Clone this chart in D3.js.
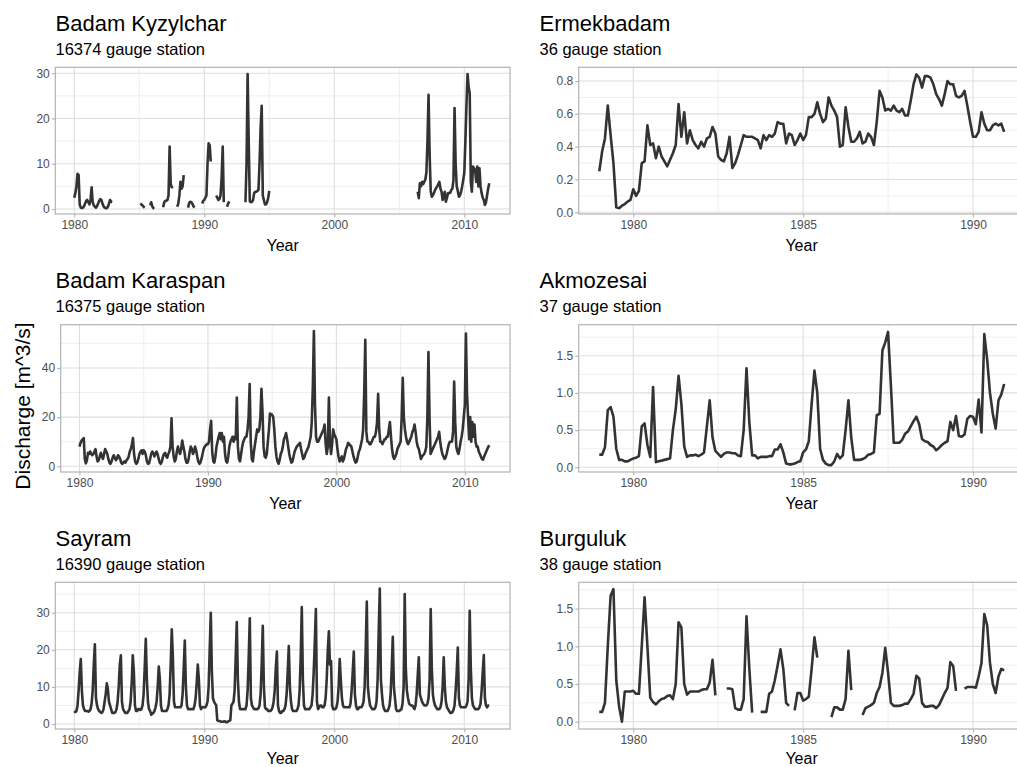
<!DOCTYPE html>
<html>
<head>
<meta charset="utf-8">
<script src="https://cdn.jsdelivr.net/npm/d3@7"></script>
<style>
  body { margin: 0; background: #fff; }
  svg { display: block; font-family: "Liberation Sans", Arial, sans-serif; }
</style>
</head>
<body>
<svg id="chart" width="1017" height="767"></svg>
<script>
// Monthly discharge, one row of 12 months per year, null = no record

// Badam Kyzylchar, 1980-2011
const kyzylchar = [
  [2.5, 3.5, 5.0, 7.8, 7.5, 1.0, 0.3, 0.2, 0.3, 0.6, 1.2, 1.8],
  [2.0, 1.5, 1.0, 2.0, 4.8, 1.5, 0.8, 0.5, 0.3, 0.6, 1.2, 1.8],
  [2.2, 2.0, 1.2, 0.6, 0.3, 0.2, 0.2, 0.5, 1.2, 2.0, 1.6, 1.5],
  [null, null, null, null, null, null, null, null, null, null, null, null],
  [null, null, null, null, null, null, null, null, null, null, null, null],
  [null, 1.2, 1.0, 0.8, 0.5, 0.3, null, null, null, null, 0.8, 1.5],
  [0.6, 0.2, 0.1, null, null, null, null, null, null, null, 0.4, 1.5],
  [1.8, 1.8, 2.0, 3.0, 13.8, 5.5, 4.8, 5.0, null, null, null, 0.5],
  [1.2, 3.0, 6.0, 4.5, 5.0, 7.5, null, null, null, 0.3, 1.3, 1.6],
  [1.5, 1.2, 0.6, 0.3, null, null, null, null, null, null, 1.2, 1.8],
  [2.0, 2.5, 3.0, 10.0, 14.5, 14.0, 10.5, null, null, null, null, 3.0],
  [2.5, 2.0, 2.2, 3.0, 7.0, 13.8, 1.5, null, null, 0.5, 1.2, 1.7],
  [null, null, null, null, null, null, null, null, null, null, null, null],
  [null, null, 1.5, 10.0, 29.8, 15.0, 1.7, 1.5, 1.6, 2.0, 3.5, 3.8],
  [3.8, 4.0, 4.2, 10.0, 18.0, 22.8, 3.0, 2.0, 1.0, 1.0, 1.5, 2.5],
  [4.0, null, null, null, null, null, null, null, null, null, null, null],
  [null, null, null, null, null, null, null, null, null, null, null, null],
  [null, null, null, null, null, null, null, null, null, null, null, null],
  [null, null, null, null, null, null, null, null, null, null, null, null],
  [null, null, null, null, null, null, null, null, null, null, null, null],
  [null, null, null, null, null, null, null, null, null, null, null, null],
  [null, null, null, null, null, null, null, null, null, null, null, null],
  [null, null, null, null, null, null, null, null, null, null, null, null],
  [null, null, null, null, null, null, null, null, null, null, null, null],
  [null, null, null, null, null, null, null, null, null, null, null, null],
  [null, null, null, null, null, null, null, null, null, null, null, null],
  [null, null, null, null, null, 3.8, 2.4, 5.7, 5.0, 6.0, 5.5, 6.0],
  [6.5, 8.0, 15.0, 25.2, 12.0, 4.0, 2.7, 3.1, 3.5, 4.2, 4.6, 5.0],
  [5.5, 6.0, 4.5, 3.8, 2.0, 3.0, 3.8, 1.6, 2.5, 3.5, 3.5, 3.6],
  [4.2, 4.5, 6.4, 22.3, 10.0, 5.0, 4.0, 2.7, 3.0, 3.8, 5.0, 6.4],
  [8.0, 15.0, 23.0, 29.8, 27.0, 25.6, 6.0, 3.8, 9.4, 9.0, 8.6, 6.0],
  [9.4, 5.0, 9.0, 5.0, 3.5, 2.5, 2.0, 0.9, 1.5, 3.0, 4.5, 5.7]
];

// Badam Karaspan, 1980-2011
const karaspan = [
  [8, 9.5, 10.5, 11, 11.5, 3, 1.2, 2.5, 5.5, 5, 6, 5],
  [4.5, 5, 6, 7, 4, 2, 2.5, 4, 5.5, 4, 3, 5],
  [7, 6, 5, 3, 1.5, 1, 2, 3.5, 4.5, 3.5, 2.5, 3],
  [4.5, 4, 3, 1.5, 1, 1.5, 2, 1.5, 2.5, 3, 4, 6],
  [7, 9, 11.5, 5, 2, 1, 1.5, 3, 5, 6, 6.5, 5],
  [6.5, 6, 4.5, 2, 1, 1.2, 3, 5, 6, 5.5, 4, 5],
  [6, 5, 3, 1.5, 1, 2, 4, 5, 5.5, 4, 3.5, 5],
  [6, 8, 19.5, 8, 4, 2, 3, 6, 8, 6, 5, 7],
  [10.5, 8, 6, 3, 1.5, 1.5, 3, 6, 8, 7, 5, 6],
  [8, 6.5, 4, 2, 1, 1.5, 3, 5, 7, 8, 8.5, 9],
  [9, 10, 15, 18.5, 6, 2, 1.5, 4, 8, 10, 12, 13.5],
  [11, 13.5, 10, 12, 5, 2, 1.5, 4, 8, 10, 11, 12],
  [10, 12, 11, 28, 8, 3, 2, 5, 8, 10, 11, 12],
  [12, 15, 20, 33.5, 10, 3, 2, 6, 9, 12, 15, 14],
  [15, 20, 31.5, 22, 8, 4, 3.5, 5, 10, 15, 21.5, 21],
  [21, 20, 15, 8, 4, 2, 1, 2.5, 5, 6, 8, 11],
  [12, 13.5, 11, 8, 5, 3, 1.5, 2, 4, 6, 7, 8],
  [8.5, 9, 9.5, 7, 5, 3, 3.5, 5, 6, 7, 8, 10],
  [12, 18, 32, 55, 25, 12, 10, 10, 11, 12, 13, 14],
  [15, 17, 9, 5, 8, 28, 10, 5, 9, 15, 13, 12],
  [11, 7, 4, 2, 3, 4, 2, 3, 5, 7, 8, 9.5],
  [9, 8.5, 8, 6, 4, 2.5, 1.5, 2, 4, 6, 7, 9],
  [11, 15, 30, 51.5, 14, 10, 10, 9, 9, 10, 11, 12],
  [12, 14, 18, 29.5, 15, 10, 10, 9, 10, 11, 11, 12],
  [12, 15, 18, 12, 7, 4, 3, 4, 5, 7, 8, 9],
  [10, 20, 36, 20, 15, 12, 10, 9, 10, 11, 12, 14],
  [15, 17, 14, 10, 8, 7, 5, 3, 4, 4.5, 5, 6],
  [8, 20, 46.5, 20, 5, 6, 7, 8, 9, 10, 11, 12],
  [14, 10, 7, 5, 4, 3, 3.5, 5, 7, 9, 10, 10],
  [10, 14, 34.5, 18, 8, 6, 5, 7, 10, 12, 15, 20],
  [25, 54, 30, 20, 11, 20, 10, 18, 12, 17, 10, 8],
  [8, 6, 5, 4, 3, 2.7, 4, 5, 6, 7, 8, 8.5]
];

// Sayram, 1980-2011
const sayram = [
  [3.5, 3.2, 3.5, 5, 9, 14, 17.5, 9, 5, 4, 3.5, 3.5],
  [3.5, 3.3, 3.5, 4, 5.5, 9, 16, 21.5, 7, 5, 4, 3.5],
  [3.2, 3, 3.2, 4, 6, 8, 11, 9.5, 6, 5, 4, 3],
  [3, 3, 3.2, 4, 6, 10, 16, 18.5, 6, 4, 3.5, 3],
  [3, 3, 3.5, 4, 6, 11, 18.5, 14, 5, 3.5, 3.5, 4],
  [4, 3.8, 4, 5, 8, 15, 23, 12, 6, 4, 3.5, 2.5],
  [2.8, 3, 3.5, 4.5, 6, 10, 15.5, 12, 5, 3.5, 3.5, 3.5],
  [3.5, 3.5, 4, 5, 8, 16, 25.5, 18, 6, 4.5, 4.5, 4.5],
  [4.5, 4.5, 4.5, 5, 8, 15, 22.5, 10, 5, 4, 4, 4],
  [4, 4, 4, 5, 7, 11, 16, 12, 5, 4, 4.5, 4.5],
  [4.5, 4.5, 5, 6, 10, 20, 30, 14, 7, 6, 5.5, 5],
  [1, 0.8, 0.8, 0.7, 0.6, 0.6, 0.7, 0.7, 0.5, 0.5, 0.7, 0.8],
  [1, 5, 5.5, 6, 9, 18, 27.5, 12, 6, 4, 4, 4],
  [4, 4, 4, 5, 9, 18, 28.5, 7, 5, 4.5, 4, 4],
  [4, 4, 4.2, 5, 8, 16, 26.5, 10, 4.5, 4, 4, 3.5],
  [3.5, 3.5, 3.8, 4.5, 6, 9, 15, 19.5, 5, 3.5, 3, 3],
  [3.5, 3.5, 4, 5, 8, 14, 21, 10, 6, 4, 3.5, 3.5],
  [3.5, 3.5, 4, 5, 9, 18, 31.5, 12, 5, 4, 4, 4],
  [4, 4, 4.5, 5, 8, 14, 22, 31, 6, 4, 4.5, 5],
  [5, 4.5, 4.5, 5, 7, 12, 20, 25, 16, 17, 5, 4],
  [4, 4, 4.5, 6, 10, 17.5, 12, 7, 5, 4.5, 4.5, 4.5],
  [4.5, 4.5, 4.5, 5.5, 9, 14, 19.5, 8, 5, 4, 4, 4.5],
  [4.5, 4.5, 5, 6, 10, 20, 33, 10, 7, 5, 4.5, 4],
  [4, 4, 4.5, 6, 12, 25, 36.5, 12, 8, 5, 4, 3.5],
  [3.5, 3.5, 4, 5, 8, 15, 23.5, 10, 7, 4, 3.5, 3.5],
  [3.5, 3.8, 4, 5.5, 10, 35, 15, 9, 7, 5.5, 5.2, 5],
  [5, 4.5, 4, 5, 8, 13, 18, 8, 7, 6, 5.5, 5],
  [5, 5, 5.5, 7, 12, 31, 15, 8, 6, 5, 4.5, 4],
  [4, 4, 4.5, 6, 10, 18, 10, 6, 4.5, 4, 3.5, 3],
  [3, 3.2, 3.8, 5, 9, 14, 20.6, 7, 5, 4.5, 4.5, 4.5],
  [4.5, 4.5, 5, 6, 12, 30.5, 15, 7, 5, 4.5, 4, 4],
  [4, 4, 4.5, 5.5, 9, 14, 18.6, 7, 5, 4.5, 5, 5]
];

// Ermekbadam, 1979-1990
const ermekbadam = [
  [0.25, 0.37, 0.45, 0.65, 0.47, 0.3, 0.03, 0.025, 0.04, 0.05, 0.065, 0.075],
  [0.14, 0.1, 0.13, 0.3, 0.31, 0.53, 0.41, 0.42, 0.33, 0.4, 0.34, 0.31],
  [0.28, 0.32, 0.36, 0.41, 0.66, 0.46, 0.61, 0.42, 0.5, 0.44, 0.41, 0.39],
  [0.43, 0.4, 0.45, 0.46, 0.52, 0.48, 0.34, 0.32, 0.31, 0.36, 0.46, 0.27],
  [0.3, 0.35, 0.41, 0.47, 0.46, 0.46, 0.46, 0.45, 0.44, 0.39, 0.47, 0.44],
  [0.47, 0.46, 0.48, 0.55, 0.54, 0.54, 0.42, 0.48, 0.47, 0.41, 0.44, 0.48],
  [0.44, 0.47, 0.58, 0.58, 0.6, 0.67, 0.6, 0.55, 0.57, 0.7, 0.65, 0.62],
  [0.58, 0.4, 0.41, 0.64, 0.52, 0.43, 0.43, 0.45, 0.49, 0.42, 0.43, 0.48],
  [0.46, 0.41, 0.55, 0.74, 0.7, 0.62, 0.63, 0.62, 0.65, 0.62, 0.61, 0.63],
  [0.59, 0.59, 0.68, 0.78, 0.84, 0.82, 0.76, 0.83, 0.83, 0.82, 0.78, 0.72],
  [0.69, 0.65, 0.72, 0.8, 0.78, 0.78, 0.71, 0.7, 0.71, 0.74, 0.65, 0.55],
  [0.46, 0.46, 0.49, 0.61, 0.54, 0.5, 0.5, 0.53, 0.54, 0.53, 0.54, 0.49]
];

// Akmozesai, 1979-1990
const akmozesai = [
  [0.17, 0.17, 0.27, 0.77, 0.81, 0.68, 0.25, 0.1, 0.1, 0.08, 0.08, 0.1],
  [0.12, 0.13, 0.15, 0.55, 0.59, 0.3, 0.14, 1.08, 0.07, 0.08, 0.09, 0.1],
  [0.11, 0.12, 0.5, 0.78, 1.23, 0.85, 0.28, 0.14, 0.16, 0.16, 0.17, 0.15],
  [0.17, 0.2, 0.55, 0.9, 0.4, 0.22, 0.18, 0.14, 0.18, 0.2, 0.2, 0.19],
  [0.19, 0.16, 0.15, 0.5, 1.33, 0.6, 0.16, 0.16, 0.12, 0.14, 0.14, 0.14],
  [0.15, 0.15, 0.24, 0.24, 0.31, 0.2, 0.05, 0.04, 0.04, 0.05, 0.07, 0.08],
  [0.2, 0.24, 0.35, 0.85, 1.3, 1.0, 0.25, 0.1, 0.05, 0.03, 0.03, 0.08],
  [0.18, 0.12, 0.16, 0.5, 0.9, 0.4, 0.1, 0.1, 0.1, 0.11, 0.13, 0.17],
  [0.18, 0.2, 0.7, 0.72, 1.57, 1.68, 1.82, 1.1, 0.33, 0.33, 0.33, 0.37],
  [0.45, 0.48, 0.55, 0.62, 0.68, 0.58, 0.38, 0.35, 0.34, 0.3, 0.28, 0.23],
  [0.26, 0.3, 0.33, 0.35, 0.61, 0.5, 0.69, 0.42, 0.41, 0.44, 0.65, 0.69],
  [0.68, 0.58, 0.91, 0.47, 1.79, 1.45, 1.0, 0.72, 0.52, 0.9, 0.98, 1.12]
];

// Burguluk, 1979-1990
const burguluk = [
  [0.13, 0.13, 0.25, 1.0, 1.67, 1.76, 0.55, 0.2, 0.0, 0.4, 0.4, 0.4],
  [0.41, 0.37, 0.37, 1.0, 1.65, 1.0, 0.32, 0.26, 0.23, 0.27, 0.3, 0.31],
  [0.34, 0.35, 0.3, 0.5, 1.32, 1.25, 0.5, 0.36, 0.4, 0.4, 0.4, 0.4],
  [0.42, 0.43, 0.43, 0.52, 0.82, 0.35, null, null, null, 0.44, 0.44, 0.43],
  [0.18, 0.16, 0.16, 0.3, 1.4, 0.7, 0.12, null, null, 0.13, 0.13, 0.13],
  [0.37, 0.4, 0.55, 0.75, 0.96, 0.7, 0.25, 0.21, null, 0.15, 0.38, 0.38],
  [0.28, 0.3, 0.33, 0.7, 1.12, 0.85, null, null, null, null, 0.06, 0.19],
  [0.19, 0.16, 0.16, 0.3, 0.94, 0.42, null, null, null, 0.09, 0.18, 0.2],
  [0.22, 0.25, 0.38, 0.46, 0.65, 0.98, 0.65, 0.25, 0.21, 0.21, 0.21, 0.22],
  [0.24, 0.24, 0.3, 0.37, 0.61, 0.57, 0.25, 0.2, 0.2, 0.21, 0.21, 0.18],
  [0.22, 0.3, 0.38, 0.45, 0.79, 0.74, 0.41, null, null, 0.44, 0.46, 0.46],
  [0.46, 0.45, 0.6, 0.78, 1.43, 1.28, 0.78, 0.5, 0.38, 0.6, 0.7, 0.68]
];

const stationNames = ["Badam Kyzylchar", "Ermekbadam", "Badam Karaspan", "Akmozesai", "Sayram", "Burguluk"];
const stationIds = ["16374", "36", "16375", "37", "16390", "38"];
const startYears = [1980, 1979, 1980, 1979, 1980, 1979];
const seriesList = [kyzylchar, ermekbadam, karaspan, akmozesai, sayram, burguluk];

const longYearTicks = [1980, 1990, 2000, 2010];
const longYearMinor = [1985, 1995, 2005];
const shortYearTicks = [1980, 1985, 1990];
const shortYearMinor = [1982.5, 1987.5];

const yTicks = [[0, 10, 20, 30], [0, 0.2, 0.4, 0.6, 0.8], [0, 20, 40], [0, 0.5, 1, 1.5], [0, 10, 20, 30], [0, 0.5, 1, 1.5]];
const yMinor = [[5, 15, 25], [0.1, 0.3, 0.5, 0.7], [10, 30, 50], [0.25, 0.75, 1.25, 1.75], [5, 15, 25, 35], [0.25, 0.75, 1.25, 1.75]];
const yDomains = [[-1.1, 31.3], [-0.0104, 0.8836], [-2.32, 57.6], [-0.063, 1.917], [-1.35, 38.2], [-0.097, 1.85]];

// layout (pixels)
const rowTop = [67.3, 324.7, 582.3];
const rowBottom = [214, 472, 729];
const leftX0 = [55.3, 60.7, 55.3];
const leftX1 = 510;
const rightX0 = 578.7, rightX1 = 1024.4;
const leftDomain = [1978.54, 2013.515];
const rightDomain = [1978.394, 1991.513];

const svg = d3.select("#chart");

function toSeries(rows, start) {
  return rows.flatMap((r, i) => r.map((v, m) => ({ t: start + i + m / 12, v: v })));
}

seriesList.forEach((rows, k) => {
  const row = Math.floor(k / 2), isLeft = k % 2 === 0;
  const x0 = isLeft ? leftX0[row] : rightX0;
  const x1 = isLeft ? leftX1 : rightX1;
  const y0 = rowTop[row], y1 = rowBottom[row];

  const x = d3.scaleLinear().domain(isLeft ? leftDomain : rightDomain).range([x0, x1]);
  const y = d3.scaleLinear().domain(yDomains[k]).range([y1, y0]);
  const xt = isLeft ? longYearTicks : shortYearTicks;
  const xm = isLeft ? longYearMinor : shortYearMinor;
  const yFmt = isLeft ? d3.format("d") : d3.format(".1f");

  const g = svg.append("g");

  // grid
  g.append("g").selectAll("line").data(yMinor[k]).join("line")
    .attr("x1", x0).attr("x2", x1).attr("y1", d => y(d)).attr("y2", d => y(d))
    .attr("stroke", "#e4e4e4").attr("stroke-width", 0.6);
  g.append("g").selectAll("line").data(xm).join("line")
    .attr("x1", d => x(d)).attr("x2", d => x(d)).attr("y1", y0).attr("y2", y1)
    .attr("stroke", "#e4e4e4").attr("stroke-width", 0.6);
  g.append("g").selectAll("line").data(yTicks[k]).join("line")
    .attr("x1", x0).attr("x2", x1).attr("y1", d => y(d)).attr("y2", d => y(d))
    .attr("stroke", "#dedede").attr("stroke-width", 1.1);
  g.append("g").selectAll("line").data(xt).join("line")
    .attr("x1", d => x(d)).attr("x2", d => x(d)).attr("y1", y0).attr("y2", y1)
    .attr("stroke", "#dedede").attr("stroke-width", 1.1);

  // line
  const line = d3.line().defined(d => d.v != null).x(d => x(d.t)).y(d => y(d.v));
  g.append("path").datum(toSeries(rows, startYears[k]))
    .attr("fill", "none").attr("stroke", "#333333").attr("stroke-width", 2.6)
    .attr("stroke-linejoin", "round").attr("stroke-linecap", "butt")
    .attr("d", line);

  // border
  g.append("rect").attr("x", x0).attr("y", y0).attr("width", x1 - x0).attr("height", y1 - y0)
    .attr("fill", "none").attr("stroke", "#b3b3b3").attr("stroke-width", 1.2);

  // axes
  const xAxis = g.append("g").attr("transform", `translate(0,${y1})`)
    .call(d3.axisBottom(x).tickValues(xt).tickFormat(d3.format("d")).tickSize(3.5).tickPadding(3));
  const yAxis = g.append("g").attr("transform", `translate(${x0},0)`)
    .call(d3.axisLeft(y).tickValues(yTicks[k]).tickFormat(yFmt).tickSize(3.5).tickPadding(2));
  [xAxis, yAxis].forEach(a => {
    a.select(".domain").remove();
    a.selectAll(".tick line").attr("stroke", "#b3b3b3").attr("stroke-width", 1.1);
    a.selectAll(".tick text").attr("fill", "#4d4d4d").style("font-size", "12px")
      .style("font-family", "'Liberation Sans', Arial, sans-serif");
  });

  // axis title
  g.append("text").attr("x", (x0 + x1) / 2)
    .attr("y", Math.min(y1 + 37, 763.5)).attr("text-anchor", "middle")
    .style("font-size", "16px").attr("fill", "#000").text("Year");

  // titles
  const tx = isLeft ? 55.5 : 539.5;
  g.append("text").attr("x", tx).attr("y", y0 - 36.3)
    .style("font-size", "22px").attr("fill", "#000").text(stationNames[k]);
  g.append("text").attr("x", tx).attr("y", y0 - 12.3)
    .style("font-size", "16.5px").attr("fill", "#000").text(stationIds[k] + " gauge station");
});

svg.append("text")
  .attr("transform", "translate(30,406) rotate(-90)")
  .attr("text-anchor", "middle")
  .style("font-size", "21px").attr("fill", "#000")
  .text("Discharge [m^3/s]");
</script>
</body>
</html>
